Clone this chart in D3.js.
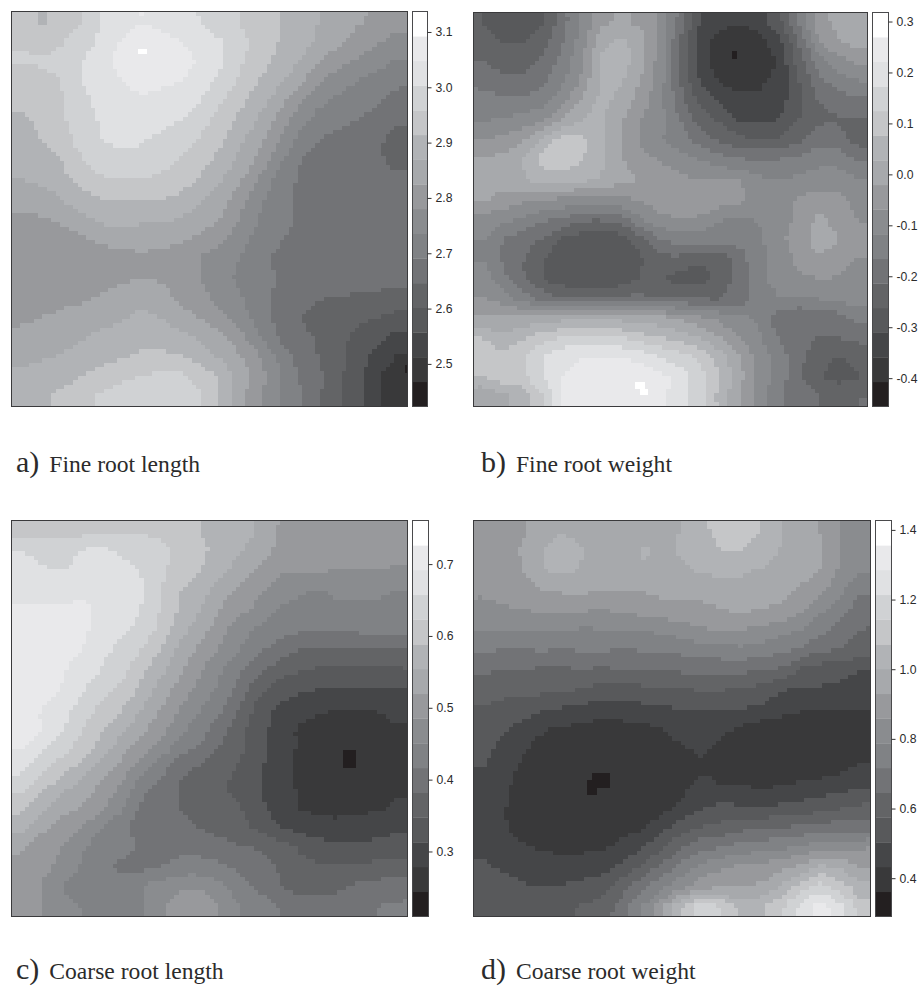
<!DOCTYPE html>
<html><head><meta charset="utf-8">
<script src="https://cdn.jsdelivr.net/npm/d3@7"></script>
<style>html,body{margin:0;padding:0;background:#fff}svg{display:block}</style>
</head><body><svg id="c" width="921" height="988"></svg>
<script>
// Grey ramp of the 16 bands, darkest first
const bandColors = ["#231f20","#39393a","#454648","#58595b","#636466","#727376","#808285","#8a8c8f","#98999c","#a7a9ac","#b1b3b6","#c5c6c8","#d0d2d4","#e0e1e3","#e9e9eb","#ffffff"];

// Field values, top row first, in band units (0 = bottom of colour key, 16 = top)
const fineLength = [
[11.5,10.9,11.2,11.9,13.1,13.6,14.0,13.7,13.3,13.0,12.3,12.0,11.4,11.0,10.6,10.0,9.5,9.1,8.8,8.5],
[11.9,11.7,11.9,12.4,13.2,14.0,14.6,14.4,14.0,13.5,13.1,12.3,11.6,11.0,10.5,9.8,9.2,8.6,8.1,7.6],
[12.1,12.1,12.3,12.9,13.5,14.3,14.9,14.6,14.3,13.9,13.2,12.2,11.4,10.7,10.0,9.1,8.4,7.9,7.4,6.9],
[11.7,11.8,12.0,13.0,13.4,14.0,14.4,14.3,14.0,13.4,12.8,11.9,11.0,10.2,9.3,8.2,7.4,7.0,6.6,6.2],
[11.3,11.4,11.9,12.8,13.2,13.7,13.8,13.6,13.3,13.0,12.2,11.3,10.4,9.5,8.3,7.3,6.8,6.5,6.1,5.7],
[10.8,11.3,11.8,12.5,13.1,13.5,13.5,13.3,13.0,12.4,11.6,10.8,9.9,8.7,7.4,6.6,6.2,6.0,5.6,5.2],
[10.4,11.0,11.6,12.3,13.0,13.2,13.1,12.8,12.4,11.9,11.2,10.2,9.3,8.0,6.8,6.0,5.8,5.5,5.2,4.6],
[10.2,10.6,11.0,11.9,12.4,12.7,12.7,12.4,12.0,11.4,10.7,9.8,8.8,7.3,6.1,5.6,5.5,5.4,5.2,4.6],
[10.0,10.2,10.7,11.3,11.9,12.0,12.0,11.8,11.4,10.9,10.1,9.2,7.9,6.6,5.9,5.5,5.5,5.5,5.4,5.3],
[9.4,9.6,10.0,10.6,11.0,11.1,11.0,11.0,10.8,10.2,9.5,8.5,7.3,6.4,5.9,5.5,5.5,5.5,5.5,5.5],
[8.8,8.9,9.2,9.7,10.2,10.4,10.2,10.1,10.0,9.5,9.0,8.0,7.0,6.3,5.9,5.5,5.5,5.5,5.5,5.5],
[8.4,8.4,8.6,8.8,9.2,9.5,9.5,9.4,9.2,8.8,8.3,7.5,6.6,6.1,5.7,5.5,5.5,5.5,5.5,5.5],
[8.3,8.3,8.3,8.3,8.4,8.5,8.7,8.6,8.3,8.0,7.5,7.0,6.4,5.8,5.6,5.5,5.5,5.5,5.5,5.5],
[8.3,8.3,8.3,8.4,8.6,8.8,8.95,8.9,8.5,8.05,7.5,6.8,6.3,5.9,5.6,5.5,5.4,5.4,5.3,5.3],
[8.5,8.5,8.6,8.8,9.1,9.4,9.7,9.4,8.8,8.3,7.7,7.1,6.4,5.8,5.3,5.05,4.95,4.9,4.85,4.6],
[8.8,9.0,9.3,9.4,9.7,9.9,10.2,10.0,9.4,9.0,8.3,7.6,6.6,5.7,5.05,4.7,4.5,4.2,4.0,3.7],
[9.3,9.4,9.6,9.9,10.2,10.3,10.6,10.6,10.3,9.9,9.3,8.4,7.1,5.9,5.5,4.8,4.4,3.7,3.2,2.7],
[9.8,9.9,10.1,10.4,10.6,10.9,11.2,11.2,11.1,10.6,9.9,9.1,8.1,6.8,5.6,5.0,4.4,3.4,2.7,1.9],
[10.2,10.4,10.7,11.0,11.4,11.8,12.0,12.3,12.3,11.6,10.9,9.6,8.4,7.1,6.0,5.2,4.2,3.3,2.2,1.2],
[10.3,10.8,11.2,11.7,12.1,12.4,12.6,12.6,12.5,12.1,11.0,9.4,8.2,7.1,6.1,5.1,4.2,3.2,2.2,1.3]];

const fineWeight = [
[4.0,3.5,3.3,4.0,5.5,7.3,8.8,9.2,8.8,7.8,5.5,2.9,2.3,2.1,2.5,3.6,6.0,8.5,9.3,9.2],
[4.4,4.0,3.9,4.6,5.9,7.5,9.7,10.3,9.3,7.6,4.8,2.4,1.7,1.3,1.6,2.7,5.0,7.8,8.9,9.4],
[5.0,4.6,4.6,5.3,6.3,7.9,10.3,10.5,9.3,7.5,4.8,2.5,1.3,1.1,1.2,2.2,4.4,6.5,7.6,8.1],
[5.7,5.3,5.3,5.8,6.8,8.3,10.3,10.1,9.0,7.4,5.0,3.0,2.0,1.8,1.9,2.2,3.9,5.6,6.5,6.9],
[6.4,6.3,6.3,6.7,7.7,9.0,10.3,9.6,8.5,7.2,5.4,3.8,2.8,2.2,2.1,2.6,3.7,5.0,5.4,5.6],
[7.0,7.2,7.4,7.9,9.1,10.0,10.1,9.1,8.0,7.4,6.0,4.6,3.9,3.0,2.8,3.1,4.0,4.8,5.0,4.9],
[8.0,8.3,8.9,10.3,11.4,11.3,10.1,9.0,7.8,7.1,6.6,5.6,4.8,4.4,4.1,4.2,4.8,5.6,5.6,4.6],
[9.2,9.5,10.0,11.4,11.9,11.0,10.1,9.1,8.4,7.9,7.4,7.0,6.5,6.2,6.0,6.1,6.4,6.6,6.5,6.0],
[9.4,9.5,9.9,10.3,10.3,10.2,10.0,9.3,8.9,8.6,8.3,8.0,8.0,8.0,7.3,7.0,7.2,7.6,7.7,7.1],
[9.2,8.6,8.2,8.0,7.8,7.7,7.5,7.8,8.1,8.6,8.8,8.7,8.6,8.3,7.4,7.3,8.1,8.3,8.2,7.8],
[7.5,7.3,6.8,6.2,5.9,5.2,5.1,5.6,6.9,7.7,8.0,7.8,7.1,6.9,7.1,7.4,8.3,9.2,8.7,8.0],
[7.0,6.0,5.5,4.9,3.9,3.5,3.3,3.5,4.6,6.0,6.5,6.5,6.4,6.3,6.8,7.7,8.5,9.4,9.0,8.2],
[6.9,5.9,5.1,4.1,3.5,3.2,3.1,3.1,3.9,4.6,4.7,4.2,4.4,5.6,6.7,7.4,8.2,8.9,8.6,8.0],
[7.5,6.3,5.2,4.0,3.4,3.1,3.1,3.4,4.1,4.2,3.6,3.6,4.4,5.4,6.7,7.4,7.9,8.0,7.9,7.8],
[8.0,7.4,6.5,5.6,5.1,5.0,5.0,5.2,5.2,5.0,5.0,5.0,5.0,5.2,6.8,7.0,7.0,7.1,7.3,7.4],
[9.2,9.2,9.3,9.3,9.6,10.0,10.2,9.6,9.5,9.3,8.8,8.2,7.7,7.2,6.9,5.4,5.0,5.2,5.6,6.3],
[10.9,10.3,10.9,11.6,12.0,12.2,12.2,12.0,11.4,11.0,10.5,9.9,9.0,8.0,7.1,6.0,5.3,5.0,5.0,5.3],
[12.0,11.5,11.7,13.0,13.8,14.0,14.1,14.0,13.7,13.0,12.5,11.8,10.5,9.0,7.6,6.5,5.4,4.2,4.0,4.2],
[11.0,11.5,11.6,13.0,14.0,14.4,14.5,14.4,14.7,14.3,13.5,12.4,10.9,9.3,7.7,6.5,5.3,4.1,3.8,4.0],
[9.0,9.8,10.5,12.0,14.0,14.1,14.3,14.5,14.8,14.3,13.4,12.3,10.7,9.0,7.4,6.2,5.2,5.0,4.5,5.0]];

const coarseLength = [
[11.5,11.4,11.5,11.6,11.7,11.9,11.9,11.8,11.7,11.0,10.9,10.3,9.9,8.9,8.4,8.3,8.3,8.3,8.3,8.3],
[13.0,12.8,12.7,13.0,13.2,12.8,12.4,12.2,11.8,11.2,10.7,10.1,9.5,8.7,8.4,8.3,8.3,8.3,8.3,8.3],
[13.3,13.1,13.0,13.5,13.6,13.5,12.9,12.2,11.6,11.0,10.3,9.5,8.8,8.2,8.1,8.1,8.0,8.0,8.0,7.9],
[13.7,13.6,13.6,13.9,13.9,13.8,13.2,12.1,11.0,10.5,9.5,8.8,8.2,7.6,7.2,7.0,7.2,7.3,7.3,7.0],
[14.1,14.1,14.1,14.1,13.9,13.7,13.0,12.0,10.9,10.0,9.0,8.3,7.7,6.9,6.7,6.7,6.8,6.8,6.7,6.7],
[14.4,14.4,14.4,14.2,13.7,13.3,12.7,11.7,10.4,9.5,8.4,7.5,6.8,6.4,6.2,6.2,6.2,6.2,6.2,6.2],
[14.3,14.3,14.3,14.0,13.4,12.7,12.0,11.0,9.8,8.8,7.9,7.0,6.2,5.6,5.0,4.9,4.9,5.0,5.0,5.0],
[14.2,14.2,14.2,13.5,13.0,12.4,11.4,10.3,9.2,8.2,7.2,6.2,5.3,4.5,4.1,3.9,3.9,3.9,3.9,3.9],
[14.1,14.1,14.0,13.2,12.4,11.8,10.8,9.7,8.6,7.7,6.8,5.6,4.3,3.6,3.2,3.0,2.9,2.9,2.9,2.9],
[14.0,14.0,13.4,12.7,11.8,11.1,10.1,9.0,8.0,7.1,6.2,4.9,3.6,2.8,2.4,2.2,2.0,2.0,2.1,2.3],
[14.0,14.0,13.1,12.1,11.2,10.3,9.3,8.4,7.3,6.4,5.5,4.4,3.4,2.6,1.9,1.6,1.5,1.5,1.6,1.9],
[14.0,13.3,12.4,11.6,10.6,9.5,8.5,7.6,6.5,5.9,5.0,4.2,3.3,2.5,1.9,1.3,1.2,1.2,1.4,1.8],
[13.3,12.3,11.5,10.6,9.6,8.6,7.5,6.5,5.2,4.9,4.5,3.9,3.2,2.4,1.8,1.2,1.1,1.1,1.3,1.7],
[12.3,11.3,10.3,9.6,8.8,7.9,6.4,5.7,4.9,4.6,4.2,3.6,3.1,2.5,1.9,1.3,1.2,1.3,1.5,1.9],
[11.3,10.2,9.4,9.0,8.2,7.2,5.9,5.4,4.95,4.6,4.3,4.1,3.3,2.5,1.95,1.7,1.6,1.7,1.9,2.1],
[10.3,9.3,8.5,8.0,7.1,6.3,5.7,5.6,5.4,4.95,4.7,4.3,3.8,3.1,2.7,2.4,2.4,2.5,2.6,2.8],
[9.2,8.4,8.0,7.2,6.5,6.2,5.9,5.8,5.7,5.6,5.3,5.1,4.9,4.4,3.9,3.5,3.2,3.2,3.3,3.4],
[8.5,8.3,7.7,6.9,6.2,5.9,5.8,6.0,6.3,6.4,6.2,5.8,5.4,4.9,4.3,4.1,4.1,4.2,4.3,4.5],
[8.5,8.0,7.1,6.3,6.0,6.4,6.9,7.5,7.9,7.9,7.3,6.5,5.8,5.1,4.7,4.7,4.8,5.2,5.4,5.4],
[8.5,8.0,7.6,7.0,6.4,6.4,6.9,7.8,8.4,8.5,8.0,7.0,6.5,6.0,5.6,5.5,5.6,5.9,6.0,6.2]];

const coarseWeight = [
[8.6,8.6,8.9,9.3,9.9,9.4,9.2,9.3,9.3,9.4,10.1,10.7,11.5,11.9,10.9,10.0,9.4,8.9,8.0,7.8],
[8.5,8.6,9.1,10.0,10.5,10.0,9.4,9.3,10.15,9.8,10.1,10.6,11.0,11.0,10.8,9.9,9.5,9.2,8.0,7.5],
[8.3,8.4,9.0,9.9,10.3,9.9,9.4,9.3,9.8,9.5,9.9,10.1,10.3,10.2,9.9,9.5,9.3,9.0,7.8,7.2],
[8.2,8.3,8.6,9.0,9.2,9.2,9.1,9.0,9.1,9.3,9.3,9.3,9.5,9.6,9.5,9.3,8.9,8.2,7.2,6.3],
[7.7,7.9,8.0,8.1,8.1,8.1,8.0,8.2,8.4,8.6,8.6,8.8,9.0,9.1,9.0,8.8,8.2,7.2,6.5,5.4],
[7.0,7.0,7.1,7.1,7.1,6.9,7.0,7.1,7.1,7.3,7.6,7.9,8.0,8.0,7.8,7.4,7.0,6.3,5.6,5.0],
[6.1,6.0,6.0,6.1,6.0,6.1,6.1,6.0,6.1,6.1,6.3,6.6,6.7,6.8,6.6,6.3,5.9,5.2,5.0,4.8],
[5.2,5.0,5.0,4.9,4.9,5.0,4.9,5.0,5.0,5.0,5.2,5.2,5.3,5.3,5.1,4.9,3.9,3.6,3.3,3.05],
[4.4,4.3,4.3,4.3,4.2,4.0,3.6,3.7,3.8,3.9,4.0,4.1,4.1,3.9,3.7,3.1,3.0,2.9,2.8,2.7],
[3.9,3.7,3.5,3.1,2.9,2.7,2.5,2.6,2.7,2.9,3.0,3.0,3.0,3.0,2.8,2.4,2.1,2.05,2.05,2.1],
[3.5,3.1,2.7,2.1,1.9,1.7,1.6,1.6,1.7,2.0,2.4,2.6,2.3,1.8,1.5,1.4,1.4,1.3,1.3,1.4],
[3.2,2.8,2.1,1.7,1.4,1.3,1.2,1.2,1.3,1.5,1.9,2.2,1.7,1.4,1.3,1.2,1.2,1.2,1.3,1.5],
[3.0,2.4,1.8,1.4,1.2,1.1,1.05,1.1,1.2,1.3,1.6,1.8,1.5,1.4,1.3,1.3,1.4,1.5,1.8,2.2],
[2.9,2.2,1.6,1.3,1.15,1.05,1.0,1.1,1.2,1.4,1.8,2.4,2.1,2.1,2.0,2.1,2.3,2.5,2.7,3.0],
[2.7,2.1,1.5,1.3,1.2,1.2,1.2,1.3,1.4,1.6,2.2,2.9,3.3,3.1,3.0,3.2,3.4,3.6,3.9,4.2],
[2.7,2.1,1.7,1.5,1.4,1.4,1.5,1.6,1.9,2.7,3.6,4.0,4.3,4.7,4.9,5.0,5.2,5.4,5.5,5.5],
[2.8,2.4,2.1,1.9,1.8,1.8,1.9,2.3,3.0,3.8,4.9,5.7,6.0,6.4,6.6,6.8,7.2,7.6,7.8,7.9],
[3.1,2.9,2.6,2.4,2.4,2.5,2.7,3.2,4.2,5.3,6.4,7.2,7.9,8.2,8.4,8.7,9.3,10.2,9.8,9.0],
[3.6,3.4,3.1,3.0,3.1,3.3,3.6,4.6,5.7,6.9,7.7,8.6,8.9,9.0,9.2,10.1,11.5,12.4,11.5,10.4],
[3.9,3.8,3.7,3.7,3.8,4.1,4.4,5.5,7.0,8.7,11.0,12.5,12.0,10.5,10.8,11.8,13.2,14.5,13.2,11.5]];

// Single extreme raster cells: [x0, y0, x1, y1, band] as fractions of the plot square
const extremesA = [[.320,.095,.342,.108,15],[.994,.895,1,.916,0]];
const extremesB = [[.655,.097,.668,.119,0],[.410,.938,.435,.955,15],[.423,.955,.444,.970,15]];
const extremesC = [[.838,.579,.870,.624,0]];
const extremesD = [[.298,.638,.344,.676,0],[.287,.655,.310,.693,0]];

// Colour key ranges and ticks
const keyDomainA = [2.423,3.137], keyTicksA = [2.5,2.6,2.7,2.8,2.9,3.0,3.1];
const keyDomainB = [-0.4556,0.3177], keyTicksB = [-0.4,-0.3,-0.2,-0.1,0.0,0.1,0.2,0.3];
const keyDomainC = [0.2095,0.7607], keyTicksC = [0.3,0.4,0.5,0.6,0.7];
const keyDomainD = [0.29,1.427], keyTicksD = [0.4,0.6,0.8,1.0,1.2,1.4];

const letters = ["a)","b)","c)","d)"];
const titles = ["Fine root length","Fine root weight","Coarse root length","Coarse root weight"];

const panels = [
 {grid:fineLength,  ext:extremesA, dom:keyDomainA, ticks:keyTicksA, x0:11.5, x1:407.5, y0:11.5, y1:406.5, kx0:412.5, kx1:427.5, capX:16, capY:472},
 {grid:fineWeight,  ext:extremesB, dom:keyDomainB, ticks:keyTicksB, x0:473.5,x1:867.5, y0:12.5, y1:406.5, kx0:872.5, kx1:888.5, capX:481,capY:472},
 {grid:coarseLength,ext:extremesC, dom:keyDomainC, ticks:keyTicksC, x0:11.5, x1:407.5, y0:520.5,y1:916.5, kx0:412.5, kx1:428.5, capX:16, capY:979},
 {grid:coarseWeight,ext:extremesD, dom:keyDomainD, ticks:keyTicksD, x0:473.5,x1:870.5, y0:520.5,y1:916.5, kx0:875.5, kx1:891.5, capX:481,capY:979}
];

const svg = d3.select("#c");
const levels = d3.range(1,16);
const RASTER = 90; // cells per side of the image raster
const ctx = document.createElement("canvas").getContext("2d");
const ringLine = d3.line().curve(d3.curveCatmullRomClosed.alpha(.5));

panels.forEach((p,i)=>{
  const g = svg.append("g");
  const nr = p.grid.length, nc = p.grid[0].length;
  // pad the grid by repeating its edge so that the contours run cleanly past the frame
  const rows = [p.grid[0],...p.grid,p.grid[nr-1]].map(r=>[r[0],...r,r[nc-1]]);
  const sx = d3.scaleLinear().domain([1,nc+1]).range([p.x0,p.x1]);
  const sy = d3.scaleLinear().domain([1,nr+1]).range([p.y0,p.y1]);
  const contours = d3.contours().size([nc+2,nr+2]).thresholds(levels)(rows.flat());
  const paths = contours.map(c=>{
    const s = c.coordinates.flatMap(poly=>poly.map(ring=>
      ringLine(ring.slice(0,-1).map(q=>[sx(q[0]),sy(q[1])])))).join("");
    return {value:c.value, path:new Path2D(s)};
  });

  // classify every raster cell against the smoothed contours, merge runs along each row
  const cx = d3.scaleLinear().domain([0,RASTER]).range([p.x0,p.x1]);
  const cy = d3.scaleLinear().domain([0,RASTER]).range([p.y0,p.y1]);
  const runs = [];
  for(let r=0;r<RASTER;r++){
    let start=0, cur=-1;
    for(let c=0;c<=RASTER;c++){
      let b=-2;
      if(c<RASTER){
        b=0;
        for(const k of paths){
          if(k.path && ctx.isPointInPath(k.path,cx(c+.5),cy(r+.5),"evenodd")) b=k.value; else break;
        }
      }
      if(b!==cur){ if(cur>=0) runs.push({r,start,end:c,band:cur}); start=c; cur=b; }
    }
  }
  g.append("g").attr("shape-rendering","crispEdges").selectAll("rect").data(runs).join("rect")
    .attr("x",d=>cx(d.start)).attr("y",d=>cy(d.r))
    .attr("width",d=>cx(d.end)-cx(d.start)).attr("height",d=>cy(d.r+1)-cy(d.r))
    .attr("fill",d=>bandColors[d.band]);

  const fx = d3.scaleLinear().domain([0,1]).range([p.x0,p.x1]);
  const fy = d3.scaleLinear().domain([0,1]).range([p.y0,p.y1]);
  g.append("g").attr("shape-rendering","crispEdges").selectAll("rect").data(p.ext).join("rect")
    .attr("x",d=>fx(d[0])).attr("y",d=>fy(d[1])).attr("width",d=>fx(d[2])-fx(d[0])).attr("height",d=>fy(d[3])-fy(d[1]))
    .attr("fill",d=>bandColors[d[4]]);
  g.append("rect").attr("x",p.x0).attr("y",p.y0).attr("width",p.x1-p.x0).attr("height",p.y1-p.y0)
    .attr("fill","none").attr("stroke","#3a3a3c").attr("stroke-width",1);

  // colour key
  const kb = d3.scaleBand().domain(d3.range(16)).range([p.y1,p.y0]);
  const ky = d3.scaleLinear().domain(p.dom).range([p.y1,p.y0]);
  g.selectAll("rect.key").data(bandColors).join("rect").attr("class","key")
    .attr("x",p.kx0).attr("y",(d,j)=>kb(j)).attr("width",p.kx1-p.kx0).attr("height",kb.bandwidth()+.3).attr("fill",d=>d);
  g.append("rect").attr("x",p.kx0).attr("y",p.y0).attr("width",p.kx1-p.kx0).attr("height",p.y1-p.y0)
    .attr("fill","none").attr("stroke","#4a4a4c").attr("stroke-width",1);
  const ax = g.append("g").attr("transform",`translate(${p.kx1},0)`)
    .call(d3.axisRight(ky).tickValues(p.ticks).tickSize(4).tickPadding(4).tickFormat(v=>v.toFixed(1)));
  ax.select(".domain").remove();
  ax.selectAll("line").attr("stroke","#333");
  ax.selectAll("text").attr("fill","#2b2b2b").style("font-family","'Liberation Sans',Arial,sans-serif").style("font-size","12.2px");

  // caption
  const t = svg.append("text").attr("x",p.capX).attr("y",p.capY).attr("fill","#2b2b2b").style("font-family","'Liberation Serif','Times New Roman',serif");
  t.append("tspan").text(letters[i]).style("font-size","30px");
  t.append("tspan").attr("dx",10).text(titles[i]).style("font-size","23.6px");
});
</script></body></html>
